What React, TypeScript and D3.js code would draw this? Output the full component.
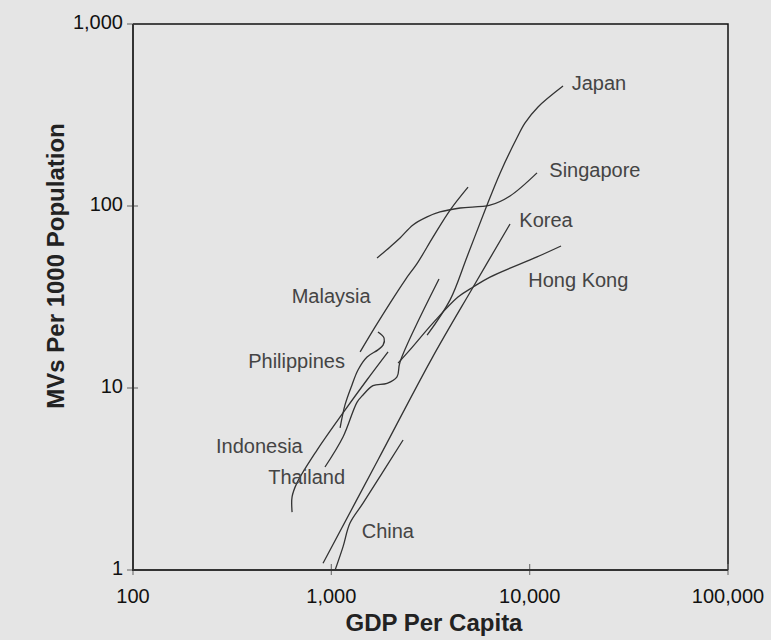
import React, { useEffect, useRef } from "react";
import * as d3 from "d3";

// GDP per capita vs motor vehicles per 1000 population
const japan = [[3040, 19.5], [3970, 30.5], [4830, 52.5], [5960, 95], [7100, 152], [8630, 237], [9480, 286], [11020, 350], [14730, 456]];
const singapore = [[1700, 51.8], [1977, 59.6], [2220, 66.7], [2580, 78.7], [3040, 87.1], [3530, 92.7], [4460, 97.5], [6310, 101], [7960, 113.5], [10890, 152]];
const korea = [[908, 1.09], [1718, 4.02], [3220, 14.6], [5190, 35.9], [7960, 79.6]];
const hongKong = [[2170, 13.7], [2490, 16.2], [3260, 22.8], [4350, 31.6], [5190, 35.9], [6310, 40.7], [10890, 52.5], [14390, 60.3]];
const malaysia = [[1397, 15.8], [1660, 21.6], [1977, 29.3], [2355, 39.2], [2735, 49.2], [3260, 67.6], [3970, 95], [4890, 127]];
const philippines = [[1107, 6.03], [1172, 8.07], [1271, 10.4], [1365, 12.6], [1514, 14.8], [1718, 16.2], [1823, 17.2], [1845, 18.8], [1718, 20.3]];
const indonesia = [[634, 2.08], [634, 2.52], [671, 3.01], [847, 4.56], [1145, 7.3], [1514, 11.1], [1932, 15.8]];
const thailand = [[929, 3.68], [1145, 5.38], [1349, 8.37], [1445, 9.16], [1622, 10.3], [1909, 10.6], [2143, 11.5], [2220, 13.9], [3490, 39.7]];
const china = [[1045, 1.0], [1145, 1.34], [1242, 1.81], [1445, 2.33], [2300, 5.18]];

const series = [japan, singapore, korea, hongKong, malaysia, philippines, indonesia, thailand, china];

// label anchors (GDP, MV) for country names
const labelNames = ["Japan", "Singapore", "Korea", "Hong Kong", "Malaysia", "Philippines", "Indonesia", "Thailand", "China"];
const labelAt = [[16300, 434], [12560, 144], [8870, 76.9], [9840, 36.1], [631, 29.2], [381, 12.8], [262, 4.42], [481, 2.97], [1423, 1.49]];

const xTicks = [100, 1000, 10000, 100000];
const yTicks = [1, 10, 100, 1000];

const W = 771;
const H = 640;
const m = { l: 133, r: 728, t: 24, b: 570 };
const font = "'Liberation Sans', Arial, Helvetica, sans-serif";

export default function App() {
  const ref = useRef<SVGSVGElement>(null);

  useEffect(() => {
    const svg = d3.select(ref.current);
    svg.selectAll("*").remove();

    svg.append("rect").attr("width", W).attr("height", H).attr("fill", "#e5e5e5");

    var x = d3.scaleLog().domain([100, 100000]).range([m.l, m.r]);
    var y = d3.scaleLog().domain([1, 1000]).range([m.b, m.t]);
    const fmt = d3.format(",");

    // frame top / right
    svg.append("path")
      .attr("d", `M${m.l},${m.t}H${m.r}V${m.b}`)
      .attr("fill", "none")
      .attr("stroke", "#111")
      .attr("stroke-width", 1.5);

    // ticks
    svg.append("g").selectAll("line").data(xTicks).join("line")
      .attr("x1", (d) => x(d)).attr("x2", (d) => x(d))
      .attr("y1", m.b - 6).attr("y2", m.b + 5)
      .attr("stroke", "#777").attr("stroke-width", 1.2);
    svg.append("g").selectAll("line").data(yTicks).join("line")
      .attr("x1", m.l - 6).attr("x2", (d) => (d === 1000 ? m.l : m.l + 5))
      .attr("y1", (d) => y(d)).attr("y2", (d) => y(d))
      .attr("stroke", "#777").attr("stroke-width", 1.2);

    // left / bottom axis lines
    svg.append("path")
      .attr("d", `M${m.l},${m.t}V${m.b}H${m.r}`)
      .attr("fill", "none")
      .attr("stroke", "#333")
      .attr("stroke-width", 2);

    // tick labels
    svg.append("g").selectAll("text").data(xTicks).join("text")
      .attr("x", (d) => x(d)).attr("y", m.b + 33)
      .attr("text-anchor", "middle")
      .attr("font-family", font).attr("font-size", 20).attr("fill", "#111")
      .text((d) => fmt(d));
    svg.append("g").selectAll("text").data(yTicks).join("text")
      .attr("x", m.l - 10).attr("y", (d) => y(d) + 5)
      .attr("text-anchor", "end")
      .attr("font-family", font).attr("font-size", 20).attr("fill", "#111")
      .text((d) => fmt(d));

    // axis titles
    svg.append("text")
      .attr("x", 434).attr("y", 631)
      .attr("text-anchor", "middle")
      .attr("font-family", font).attr("font-size", 24).attr("font-weight", "bold").attr("fill", "#222")
      .text("GDP Per Capita");
    svg.append("text")
      .attr("transform", `translate(64,266) rotate(-90)`)
      .attr("text-anchor", "middle")
      .attr("font-family", font).attr("font-size", 24).attr("font-weight", "bold").attr("fill", "#222")
      .text("MVs Per 1000 Population");

    // country lines
    const line = d3.line<number[]>()
      .x((d) => x(d[0]))
      .y((d) => y(d[1]))
      .curve(d3.curveCatmullRom.alpha(0.5));
    svg.append("g").selectAll("path").data(series).join("path")
      .attr("d", (d) => line(d))
      .attr("fill", "none")
      .attr("stroke", "#333")
      .attr("stroke-width", 1.3);

    // country labels
    svg.append("g").selectAll("text").data(labelNames).join("text")
      .attr("x", (d, i) => x(labelAt[i][0]))
      .attr("y", (d, i) => y(labelAt[i][1]))
      .attr("font-family", font).attr("font-size", 20).attr("fill", "#444")
      .text((d) => d);
  }, []);

  return (
    <svg
      ref={ref}
      width={W}
      height={H}
      style={{ position: "absolute", left: 0, top: 0, display: "block" }}
    />
  );
}
